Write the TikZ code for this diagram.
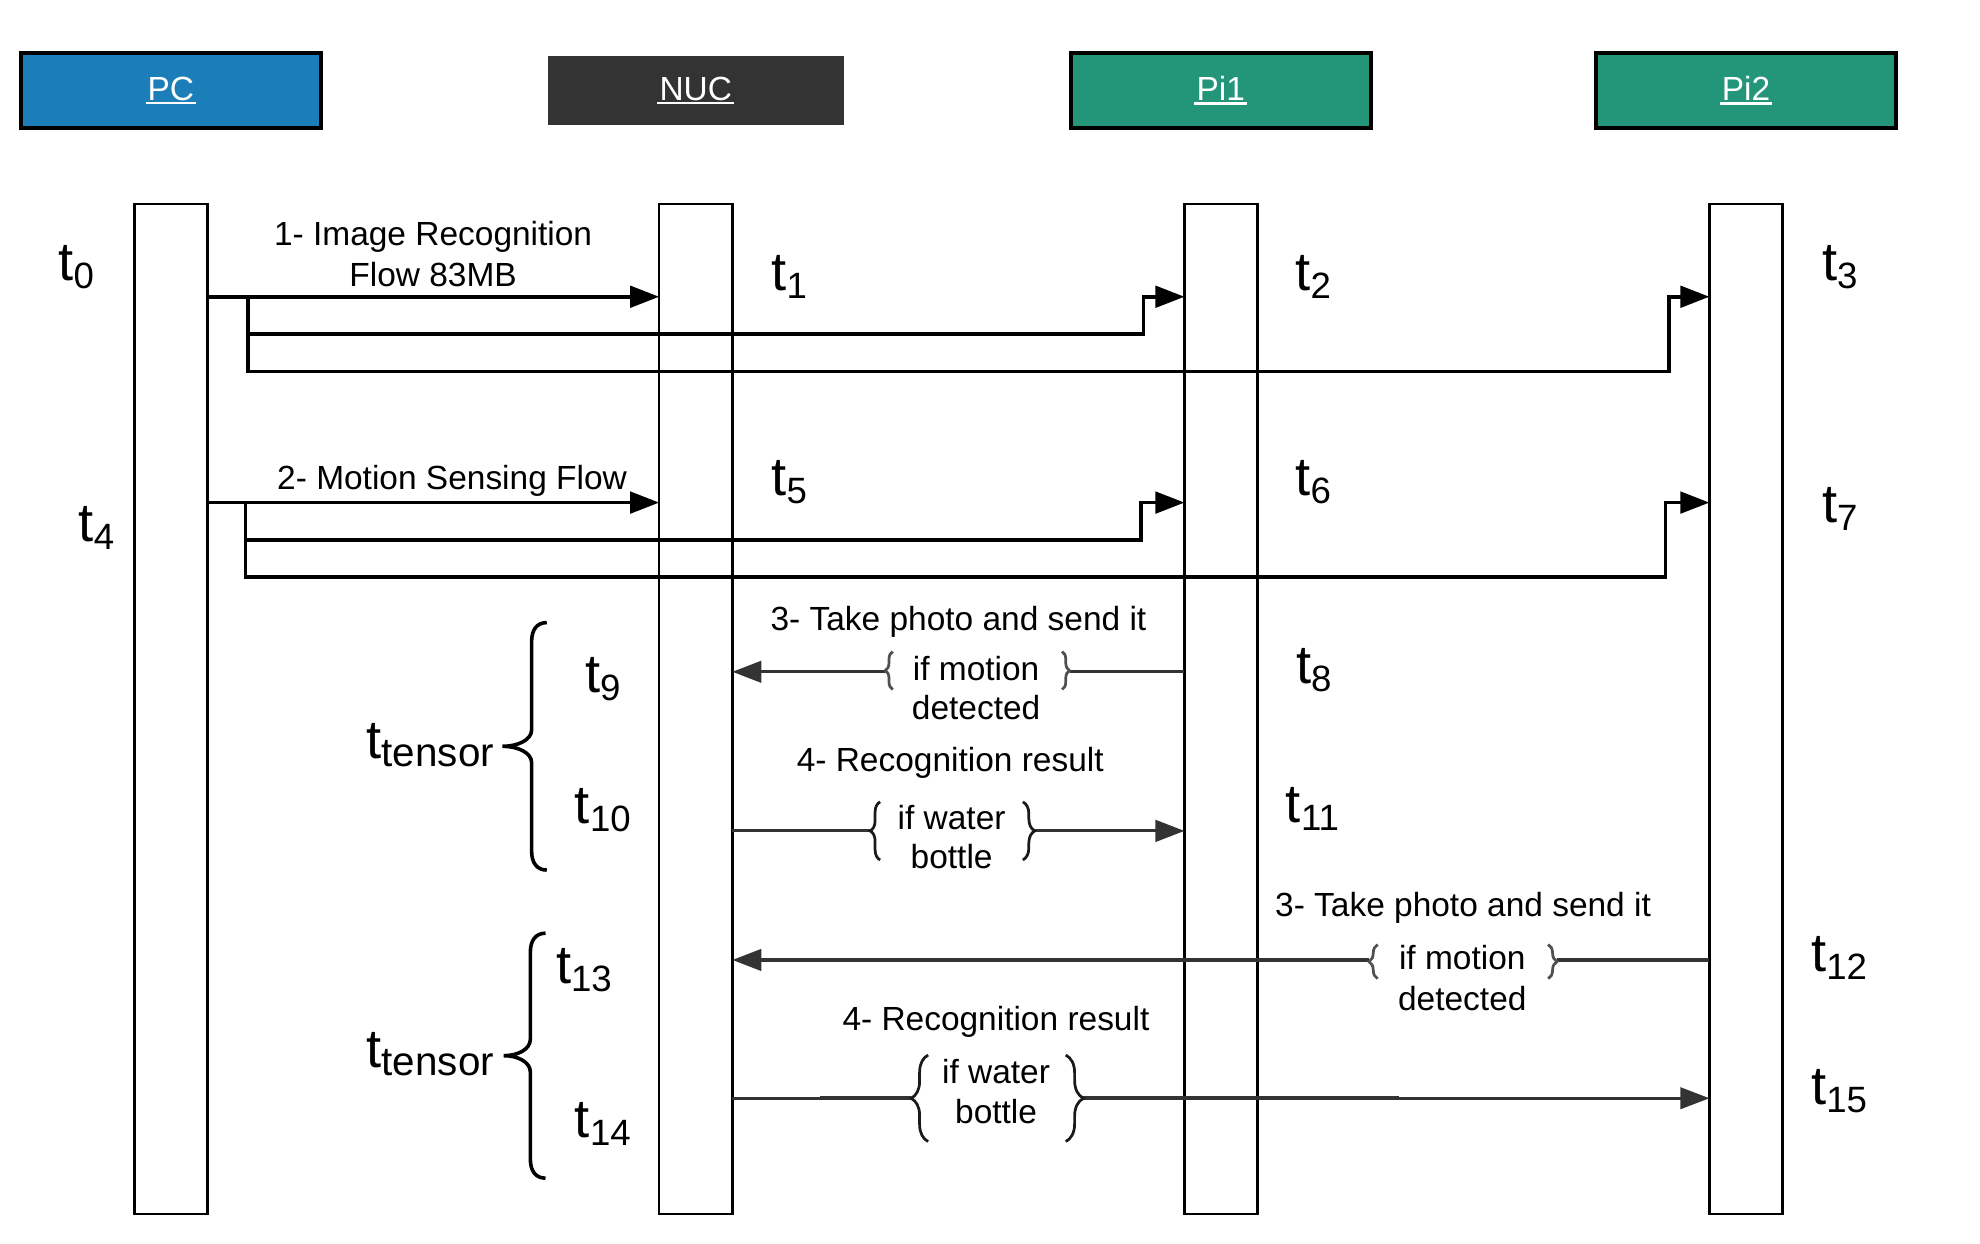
\documentclass[tikz,border=0pt]{standalone}
\usepackage{fontspec}
\setmainfont{Liberation Sans}
\usetikzlibrary{arrows.meta,decorations.pathreplacing,calc}

\definecolor{pcblue}{HTML}{1B7EB9}
\definecolor{piteal}{HTML}{239579}
\definecolor{nucgray}{HTML}{333333}
\definecolor{flowgray}{HTML}{333333}
\definecolor{bracegray}{HTML}{505050}
\definecolor{braceblack}{HTML}{1A1A1A}

\newcommand\tlab[2][17.4]{\fontsize{25.8}{26}\selectfont t\raisebox{-3.8pt}{\fontsize{#1}{18}\selectfont #2}}
\newcommand\ulhdr[1]{\setbox0=\hbox{#1}\rlap{\kern-1pt\rule[-1.8pt]{\dimexpr\wd0+2pt\relax}{1.1pt}}\box0}

\begin{document}
\begin{tikzpicture}[x=0.6pt,y=-0.6pt,
  hdr/.style={minimum width=142.4pt, minimum height=35.6pt, inner sep=0pt, outer sep=0pt,
    text=white, font=\fontsize{15.9}{19}\selectfont},
  lifeline/.style={draw=black, line width=1.26pt, minimum width=34.8pt, minimum height=480pt,
    inner sep=0pt, outer sep=0pt},
  lbl/.style={font=\fontsize{15.9}{19}\selectfont, inner sep=0pt, anchor=base},
  tl/.style={inner sep=0pt, anchor=base west},
  blackflow/.style={line width=1.7pt, draw=black},
  blackarrow/.style={blackflow, -{Triangle[length=13.8pt,width=10.2pt]}},
  grayflow/.style={line width=1.5pt, draw=flowgray},
  grayarrow/.style={grayflow, -{Triangle[length=13.8pt,width=10.2pt]}},
  smallbrace/.style={decorate, decoration={brace, amplitude=#1}, line width=1.3pt},
  bigbrace/.style={line width=1.7pt, draw=black}
]
\useasboundingbox (0,0) rectangle (1568,985);

% headers
\node[hdr, draw=black, line width=1.9pt, fill=pcblue] (pc) at (135.3,71.7) {\ulhdr{PC}};
\node[hdr, fill=nucgray, minimum width=140.4pt, minimum height=33pt] (nuc) at (551,71.5) {\ulhdr{NUC}};
\node[hdr, draw=black, line width=1.9pt, fill=piteal] (pi1) at (966.7,71.7) {\ulhdr{Pi1}};
\node[hdr, draw=black, line width=1.9pt, fill=piteal] (pi2) at (1382.7,71.7) {\ulhdr{Pi2}};

% lifelines
\node[lifeline] (pcL) at (135.5,561.5) {};
\node[lifeline] (nucL) at (551,561.5) {};
\node[lifeline] (pi1L) at (967,561.5) {};
\node[lifeline] (pi2L) at (1382.7,561.5) {};

% row coordinates
\coordinate (r1) at (0,235);
\coordinate (r2) at (0,398);
\coordinate (r3a) at (0,532);
\coordinate (r4a) at (0,658);
\coordinate (r3b) at (0,760.2);
\coordinate (r4b) at (0,869.7);

% flow 1
\coordinate (j1a) at (196.2,235);
\coordinate (j1m) at (196.2,264.5);
\coordinate (j1b) at (196.2,294.3);
\coordinate (k1) at (905.4,235);
\coordinate (k2) at (1321.7,235);
\draw[blackarrow] (pcL.east |- r1) -- (nucL.west |- r1);
\draw[blackarrow] (j1a) -- (j1b) -| (k2) -- (pi2L.west |- r1);
\draw[blackarrow] (j1m) -| (k1) -- (pi1L.west |- r1);
\node[lbl] (l1a) at (343,194.5) {1- Image Recognition};
\node[lbl] (l1b) at (343,226.5) {Flow 83MB};

% flow 2
\coordinate (j2a) at (194.4,398);
\coordinate (j2m) at (194.4,427.6);
\coordinate (j2b) at (194.4,457);
\coordinate (k3) at (903.6,398);
\coordinate (k4) at (1319,398);
\draw[blackarrow] (pcL.east |- r2) -- (nucL.west |- r2);
\draw[blackarrow] (j2a) -- (j2b) -| (k4) -- (pi2L.west |- r2);
\draw[blackarrow] (j2m) -| (k3) -- (pi1L.west |- r2);
\node[lbl] (l2) at (358,388) {2- Motion Sensing Flow};

% flow 3a (Pi1 -> NUC)
\coordinate (b3aL) at (701,532);
\coordinate (b3aR) at (847,532);
\draw[grayflow] (pi1L.west |- r3a) -- (b3aR);
\draw[grayarrow] (b3aL) -- (nucL.east |- r3a);
\draw[smallbrace=3.6pt, bracegray] (707,546) -- (707,516);
\draw[smallbrace=3.6pt, bracegray] (841,516) -- (841,546);
\node[lbl] (l3a) at (759,499.4) {3- Take photo and send it};
\node[lbl] (l3a1) at (773,538.5) {if motion};
\node[lbl] (l3a2) at (773,570) {detected};

% flow 4a (NUC -> Pi1)
\coordinate (b4aL) at (689,658);
\coordinate (b4aR) at (819.5,658);
\draw[grayflow] (nucL.east |- r4a) -- (b4aL);
\draw[grayarrow] (b4aR) -- (pi1L.west |- r4a);
\draw[smallbrace=4.8pt, braceblack] (697,681) -- (697,635);
\draw[smallbrace=5.7pt, braceblack] (810,635) -- (810,681);
\node[lbl] (l4a) at (752.5,611) {4- Recognition result};
\node[lbl] (l4a1) at (753.6,657) {if water};
\node[lbl] (l4a2) at (753.6,687.6) {bottle};

% flow 3b (Pi2 -> NUC)
\coordinate (b3bL) at (1084,760.2);
\coordinate (b3bR) at (1233,760.2);
\draw[grayflow] (pi2L.west |- r3b) -- (b3bR);
\draw[grayarrow] (b3bL) -- (nucL.east |- r3b);
\draw[smallbrace=4.2pt, bracegray] (1091,775) -- (1091,748);
\draw[smallbrace=4.2pt, bracegray] (1226,748) -- (1226,775);
\node[lbl] (l3b) at (1158.6,726) {3- Take photo and send it};
\node[lbl] (l3b1) at (1158,768) {if motion};
\node[lbl] (l3b2) at (1158,800) {detected};

% flow 4b (NUC -> Pi2)
\coordinate (b4bL) at (721.5,869.7);
\coordinate (b4bR) at (858,869.7);
\coordinate (w4bA) at (649,869.7);
\coordinate (w4bB) at (1108,869.7);
\draw[grayflow, line width=1.2pt] (nucL.east |- r4b) -- (b4bL);
\draw[grayflow, line width=1.8pt] (w4bA) -- (b4bL);
\draw[grayarrow, line width=1.2pt] (b4bR) -- (pi2L.west |- r4b);
\draw[grayflow, line width=1.8pt] (b4bR) -- (w4bB);
\draw[smallbrace=8.1pt, braceblack] (735,904) -- (735,835.5);
\draw[smallbrace=8.4pt, braceblack] (844,835.5) -- (844,904);
\node[lbl] (l4b) at (788.7,815.7) {4- Recognition result};
\node[lbl] (l4b1) at (788.8,858) {if water};
\node[lbl] (l4b2) at (788.8,889.5) {bottle};

% big braces
\draw[bigbrace] (433,493) .. controls (425,493) and (421,499) .. (421,508) -- (421,578)
  .. controls (421,586) and (410,591) .. (398,591)
  .. controls (410,591) and (421,596) .. (421,604) -- (421,674)
  .. controls (421,683) and (425,689) .. (433,689);
\draw[bigbrace] (432,739) .. controls (424,739) and (420,745) .. (420,754) -- (420,823)
  .. controls (420,831) and (410,836) .. (399,836)
  .. controls (410,836) and (420,841) .. (420,849) -- (420,918)
  .. controls (420,927) and (424,933) .. (432,933);

% time labels
\node[tl] (t0) at (46,222) {\tlab{0}};
\node[tl] (t4) at (62,429) {\tlab{4}};
\node[tl] (t1) at (610.6,230) {\tlab{1}};
\node[tl] (t2) at (1025.6,230) {\tlab{2}};
\node[tl] (t3) at (1442.6,222) {\tlab{3}};
\node[tl] (t5) at (610.6,392) {\tlab{5}};
\node[tl] (t6) at (1025.6,392) {\tlab{6}};
\node[tl] (t7) at (1442.6,414) {\tlab{7}};
\node[tl] (t9) at (463,548) {\tlab{9}};
\node[tl] (t8) at (1026,541) {\tlab{8}};
\node[tl] (tt1) at (290,600.5) {\tlab[19.2]{tensor}};
\node[tl] (t10) at (455,652) {\tlab{10}};
\node[tl] (t11) at (1018,651) {\tlab{11}};
\node[tl] (t12) at (1434,769.5) {\tlab{12}};
\node[tl] (t13) at (440,779) {\tlab{13}};
\node[tl] (tt2) at (290,845) {\tlab[19.2]{tensor}};
\node[tl] (t14) at (455,901) {\tlab{14}};
\node[tl] (t15) at (1434,875) {\tlab{15}};
\end{tikzpicture}
\end{document}
